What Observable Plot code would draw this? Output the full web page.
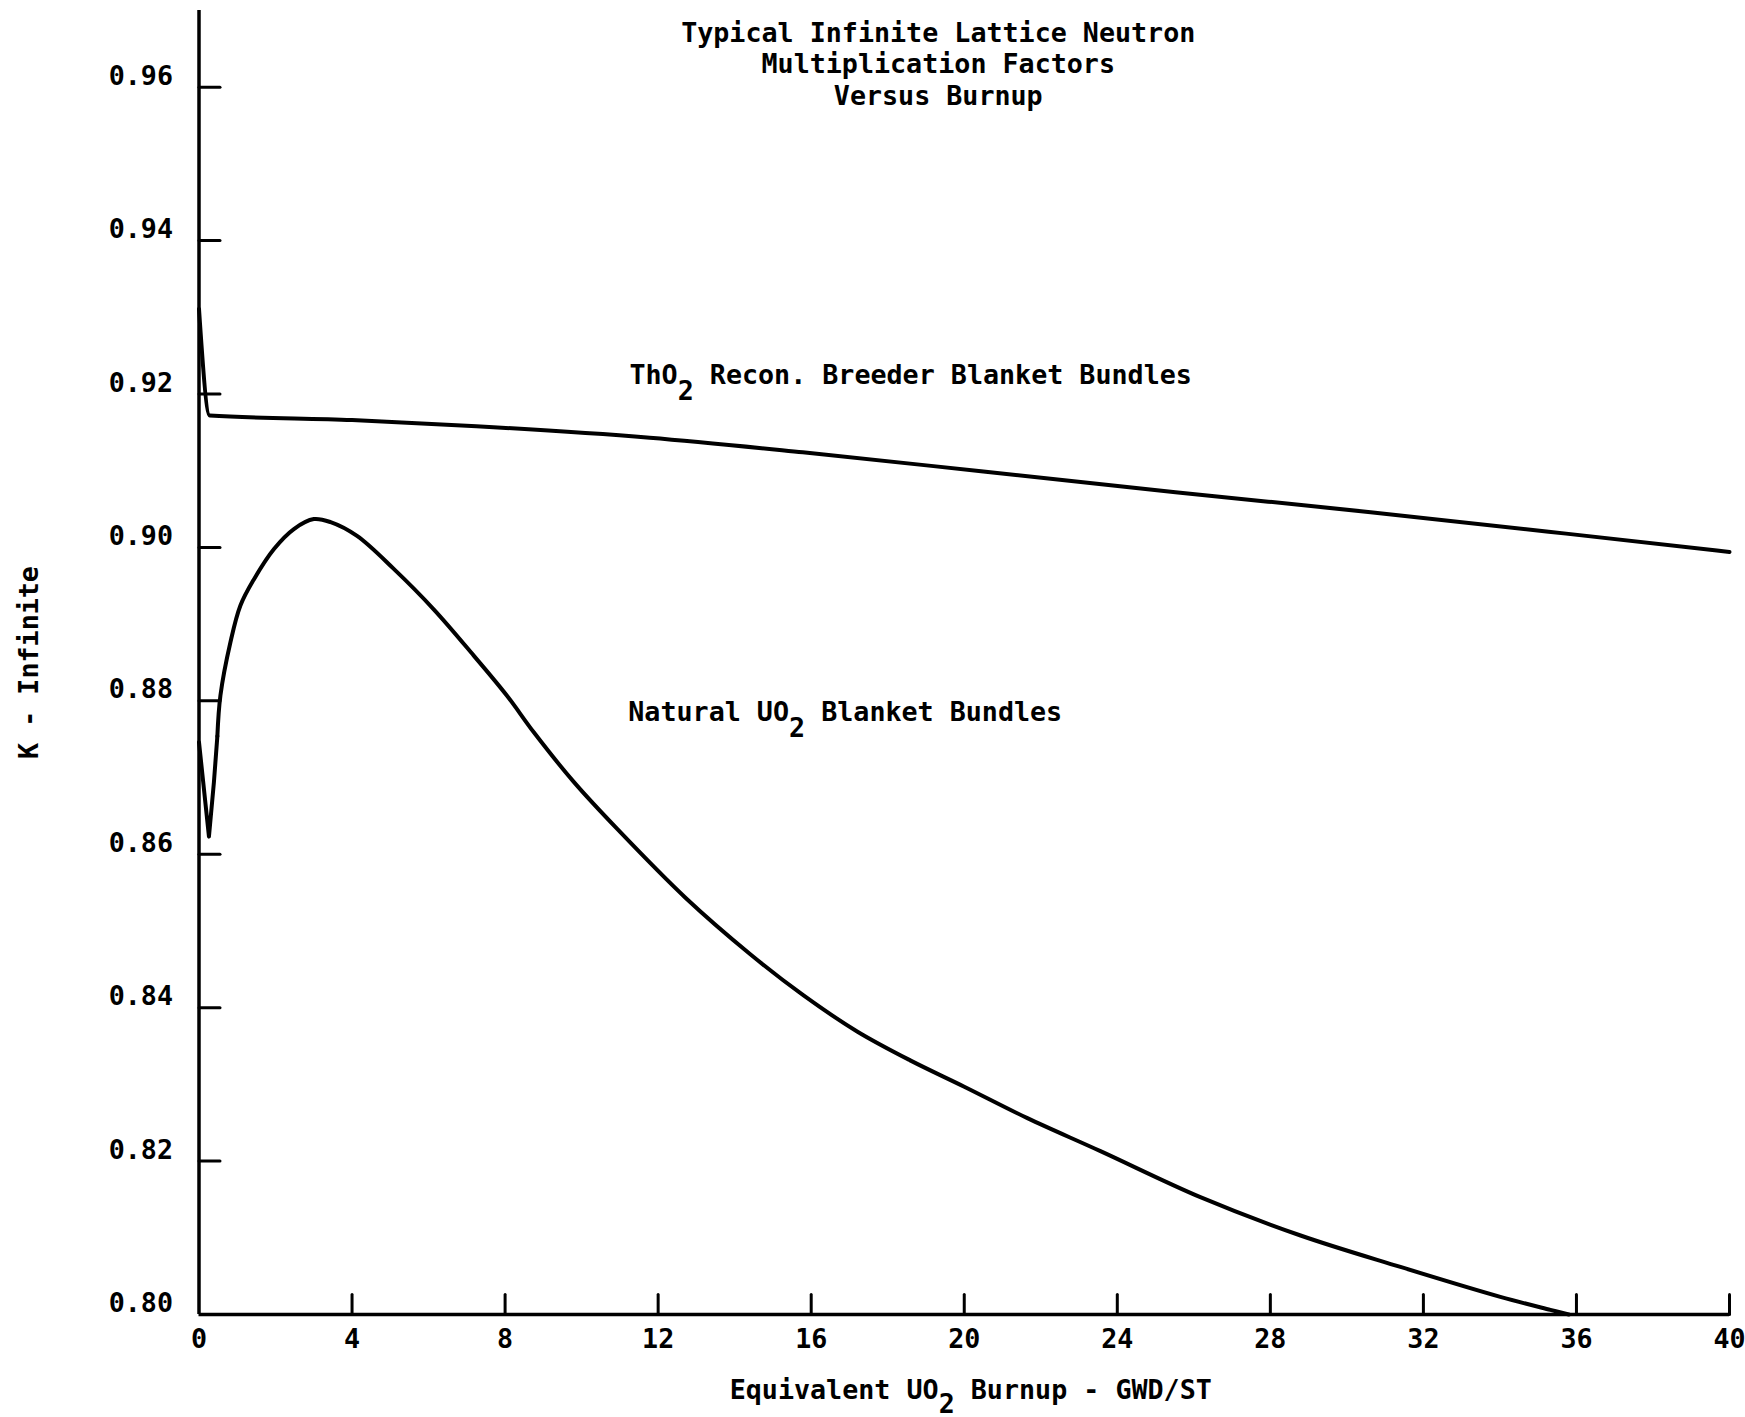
<!DOCTYPE html>
<html><head><meta charset="utf-8">
<script src="https://cdn.jsdelivr.net/npm/d3@7"></script>
<script src="https://cdn.jsdelivr.net/npm/@observablehq/plot@0.6"></script>
<style>body{margin:0;background:#fff}</style>
</head><body><div id="chart"></div>
<script>
// ThO2 Recon. Breeder Blanket Bundles
const thoX = [0, 0.28, 4, 7.25, 11.78, 15.78, 20.5, 25.52, 30.62, 35.73, 40];
const thoY = [0.9311, 0.9172, 0.9166, 0.9158, 0.9143, 0.9124, 0.9099, 0.9072, 0.9046, 0.9018, 0.8994];
// Natural UO2 Blanket Bundles
const uoX = [0, 0.26, 0.39, 0.48, 0.56, 0.82, 1.08, 1.43, 1.96, 2.48, 3.0, 3.44, 4.13, 5.09, 6.14, 7.18, 8.06, 8.75, 9.8, 10.93, 12.72, 14.40, 15.80, 17.20, 18.60, 20.0, 21.65, 23.56, 26.17, 28.79, 31.4, 34.01, 35.32, 35.8];
const uoY = [0.8746, 0.8623, 0.8694, 0.8754, 0.8807, 0.8876, 0.8924, 0.8958, 0.8998, 0.9024, 0.9037, 0.9033, 0.9015, 0.8972, 0.8919, 0.8859, 0.8806, 0.8759, 0.8694, 0.8633, 0.8543, 0.8470, 0.8416, 0.8369, 0.8331, 0.8297, 0.8256, 0.8213, 0.8153, 0.8103, 0.8062, 0.8023, 0.8006, 0.800];
// the sharp start-up dip is drawn with straight segments up to this burnup
const dipEnd = 0.48;

const xTicks = [0, 4, 8, 12, 16, 20, 24, 28, 32, 36, 40];
const yTicks = [0.80, 0.82, 0.84, 0.86, 0.88, 0.90, 0.92, 0.94, 0.96];
const xDomain = [0, 40];
const yDomain = [0.80, 0.97];

const titleLines = ["Typical Infinite Lattice Neutron", "Multiplication Factors", "Versus Burnup"];
const yLabel = "K - Infinite";
// [before subscript, subscript, after subscript]
const xLabelParts = ["Equivalent UO", "2", " Burnup - GWD/ST"];
const thoLabelParts = ["ThO", "2", " Recon. Breeder Blanket Bundles"];
const uoLabelParts = ["Natural UO", "2", " Blanket Bundles"];
// annotation anchors (data coordinates)
const thoLabelAt = {x: 11.25, y: 0.9224};
const uoLabelAt = {x: 11.22, y: 0.8785};
const xLabelAt = {x: 13.87};

const FS = 26.7;
const CW = FS * 0.602;

const tho = thoX.map((x, i) => ({x, y: thoY[i]}));
const uo = uoX.map((x, i) => ({x, y: uoY[i]}));
const uoDip = uo.filter(d => d.x <= dipEnd);
const uoRest = uo.filter(d => d.x >= dipEnd);

const tickShape = {draw(ctx, l) { ctx.moveTo(0, 0); ctx.lineTo(0, -l); }};

function subLabel(parts, opts, sub) {
  const base = {...opts, text: d => d, textAnchor: "start", lineAnchor: "middle"};
  const dx0 = opts.dx || 0, dy0 = opts.dy || 0;
  return [
    Plot.text([parts[0]], base),
    Plot.text([parts[1]], {...base, dx: dx0 + parts[0].length * CW, dy: dy0 + sub}),
    Plot.text([parts[2]], {...base, dx: dx0 + (parts[0].length + parts[1].length) * CW})
  ];
}

const lineStyle = {x: "x", y: "y", stroke: "#000", strokeWidth: 4, strokeLinejoin: "round", strokeLinecap: "round"};

const chart = Plot.plot({
  width: 1745,
  height: 1417,
  marginLeft: 198.5,
  marginRight: 16,
  marginTop: 10,
  marginBottom: 103,
  style: {fontFamily: "'DejaVu Sans Mono', monospace", fontSize: FS + "px", fontWeight: "bold", background: "#fff", color: "#000", overflow: "visible"},
  x: {domain: xDomain},
  y: {domain: yDomain},
  marks: [
    Plot.axisX({ticks: xTicks, tickSize: 0, tickPadding: 15, label: null}),
    Plot.axisY({ticks: yTicks, tickSize: 0, tickPadding: 26, tickFormat: d => d.toFixed(2), dy: -11, label: null}),
    Plot.ruleX([0], {stroke: "#000", strokeWidth: 3.5}),
    Plot.ruleY([yDomain[0]], {stroke: "#000", strokeWidth: 3.5}),
    Plot.vector(xTicks.slice(1), {x: d => d, y: yDomain[0], length: 20, rotate: 0, anchor: "start", shape: tickShape, stroke: "#000", strokeWidth: 3}),
    Plot.vector(yTicks.slice(1), {x: xDomain[0], y: d => d, length: 21, rotate: 90, anchor: "start", shape: tickShape, stroke: "#000", strokeWidth: 3}),
    Plot.line(tho, {...lineStyle, curve: "monotone-x"}),
    Plot.line(uoDip, {...lineStyle, curve: "linear"}),
    Plot.line(uoRest, {...lineStyle, curve: "catmull-rom"}),
    Plot.text([titleLines.join("\n")], {text: d => d, frameAnchor: "top", dx: -26, dy: 9, lineAnchor: "top", lineHeight: 1.18}),
    Plot.text([yLabel], {text: d => d, frameAnchor: "left", rotate: -90, dx: -170, textAnchor: "middle", lineAnchor: "middle"}),
    ...subLabel(thoLabelParts, {x: thoLabelAt.x, y: thoLabelAt.y}, 16),
    ...subLabel(uoLabelParts, {x: uoLabelAt.x, y: uoLabelAt.y}, 16),
    ...subLabel(xLabelParts, {x: xLabelAt.x, frameAnchor: "bottom", dy: 76}, 14)
  ]
});
document.getElementById("chart").appendChild(chart);
</script>
</body></html>
